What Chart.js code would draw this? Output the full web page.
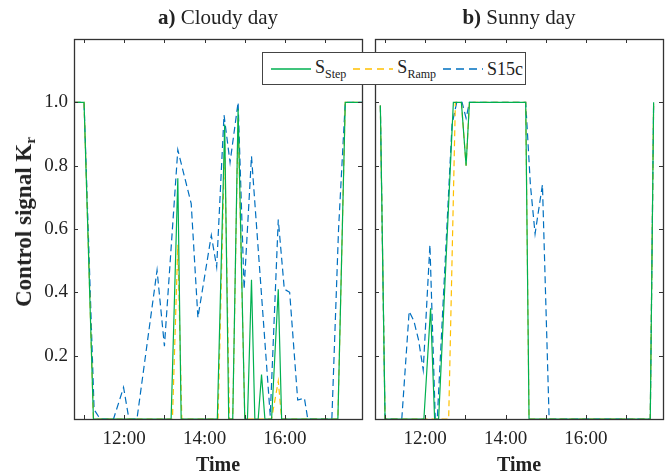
<!DOCTYPE html>
<html>
<head>
<meta charset="utf-8">
<script src="https://cdn.jsdelivr.net/npm/chart.js@4.4.1/dist/chart.umd.min.js"></script>
<style>
  body { margin: 0; background: #fff; }
  #wrap { position: relative; width: 670px; height: 476px; font-family: "Liberation Serif", "Times New Roman", serif; color: #222; }
  canvas { position: absolute; left: 0; top: 0; }
  .title { position: absolute; top: 5px; font-size: 21px; line-height: 1.2; transform: translateX(-50%); white-space: nowrap; }
  #ylab { position: absolute; left: 25px; top: 222px; font-size: 23px; font-weight: bold; white-space: nowrap;
          transform: translate(-50%, -50%) rotate(-90deg); }
  #ylab sub { font-size: 15px; vertical-align: -4px; }
  #legend { position: absolute; left: 262px; top: 52px; width: 254px; height: 31px; background: #fff;
            border: 1px solid #444; display: flex; align-items: center; padding-left: 8px; box-sizing: content-box; }
  #legend .item { display: flex; align-items: center; margin-right: 7px; }
  #legend svg { width: 40px; height: 6px; margin-right: 4px; }
  #legend .lab { font-size: 18px; line-height: 1; }
  #legend .lab sub { font-size: 12px; vertical-align: -5px; }
</style>
</head>
<body>
<div id="wrap">
  <canvas id="cloudy" width="670" height="476"></canvas>
  <canvas id="sunny" width="670" height="476"></canvas>
  <div class="title" style="left:218px"><b>a)</b> Cloudy day</div>
  <div class="title" style="left:519px"><b>b)</b> Sunny day</div>
  <div id="ylab">Control signal K<sub>r</sub></div>
  <div id="legend"></div>
</div>
<script>
// ---- data (times as HH:MM, values 0..1) ----
const seriesNames = ["S|Step", "S|Ramp", "S15c"];
const seriesColors = ["#00b050", "#ffc000", "#0070c0"];

// a) Cloudy day
const cloudyStepTimes = ["10:45","11:00","11:14","13:10","13:20","13:25","14:19","14:30","14:36","14:42","14:50","15:00","15:04","15:10","15:15","15:20","15:25","15:30","15:40","15:50","15:55","17:19","17:30","17:55"];
const cloudyStepValues = [1,1,0,0,0.76,0,0,0.93,0,0,0.98,0,0,0.44,0,0,0.14,0,0,0.41,0,0,1,1];
const cloudyRampTimes = ["10:45","11:00","11:14","13:12","13:20","13:26","14:20","14:30","14:37","14:42","14:50","15:00","15:40","15:50","15:55","17:19","17:30","17:55"];
const cloudyRampValues = [1,1,0,0,0.55,0,0,0.87,0,0,0.95,0,0,0.12,0,0,1,1];
const cloudyS15cTimes = ["10:45","11:00","11:15","11:24","11:44","11:59","12:07","12:19","12:49","13:00","13:20","13:40","13:50","14:10","14:18","14:29","14:38","14:50","14:59","15:10","15:38","15:50","15:59","16:07","16:19","16:29","16:34","17:10","17:20","17:30","17:55"];
const cloudyS15cValues = [1,1,0.03,0,0,0.10,0,0,0.47,0.23,0.85,0.68,0.32,0.58,0.48,0.96,0.81,1.0,0.41,0.83,0.01,0.63,0.41,0.40,0.06,0.066,0,0,0.6,1,1];

// b) Sunny day
const sunnyStepTimes = ["10:53","11:00","11:58","12:08","12:14","12:20","12:42","12:54","13:01","13:06","14:30","14:35","14:38","17:36","17:41"];
const sunnyStepValues = [0.99,0,0,0.35,0,0,1,1,0.80,1,1,0,0,0,1];
const sunnyRampTimes = ["10:53","11:00","12:35","12:45","12:54","13:01","13:06","14:30","14:35","17:36","17:41"];
const sunnyRampValues = [0.99,0,0,1,1,0.80,1,1,0,0,1];
const sunnyS15cTimes = ["10:53","11:00","11:25","11:36","11:43","11:50","11:57","12:07","12:15","12:18","12:40","12:47","12:55","13:01","13:06","14:30","14:37","14:44","14:55","15:05","17:36","17:41"];
const sunnyS15cValues = [0.99,0,0,0.34,0.31,0.25,0.155,0.55,0,0,0.93,1,1,0.95,1,1,0.74,0.585,0.74,0,0,1];

// axes
const xMin = "10:45", xMax = "17:55";
const yMin = 0, yMax = 1.2, yStep = 0.2;
const labelledHours = [12, 14, 16];

const toH = s => { const [h, m] = s.split(":").map(Number); return h + m / 60; };
const pts = (t, v) => t.map((s, i) => ({ x: toH(s), y: v[i] }));

// MATLAB-like box with inward ticks on all four sides
const frameTicks = {
  id: "frameTicks",
  afterDatasetsDraw(chart) {
    const { ctx, chartArea: a, scales: { x, y } } = chart;
    const len = 4;
    ctx.save();
    ctx.strokeStyle = "#333";
    ctx.lineWidth = 1;
    ctx.beginPath();
    x.ticks.forEach(t => {
      const px = Math.round(x.getPixelForValue(t.value)) + 0.5;
      ctx.moveTo(px, a.bottom); ctx.lineTo(px, a.bottom - len);
      ctx.moveTo(px, a.top); ctx.lineTo(px, a.top + len);
    });
    y.ticks.forEach(t => {
      const py = Math.round(y.getPixelForValue(t.value)) + 0.5;
      ctx.moveTo(a.left, py); ctx.lineTo(a.left + len, py);
      ctx.moveTo(a.right, py); ctx.lineTo(a.right - len, py);
    });
    ctx.stroke();
    ctx.lineWidth = 1.3;
    ctx.strokeRect(Math.round(a.left) + 0.5, Math.round(a.top) + 0.5, Math.round(a.right - a.left), Math.round(a.bottom - a.top));
    ctx.restore();
  }
};

function makeChart(id, sets, showY, pad) {
  const fontFam = '"Liberation Serif", "Times New Roman", serif';
  const datasets = sets.map((d, i) => ({
    label: seriesNames[i].replace("|", ""),
    data: d,
    borderColor: seriesColors[i],
    borderWidth: 1.2,
    borderDash: i === 0 ? [] : (i === 1 ? [6, 4] : [7, 4]),
    pointRadius: 0,
    tension: 0,
    fill: false
  }));
  return new Chart(document.getElementById(id), {
    type: "line",
    data: { datasets },
    options: {
      responsive: false,
      animation: false,
      devicePixelRatio: 1,
      layout: { padding: pad },
      plugins: { legend: { display: false }, tooltip: { enabled: false } },
      scales: {
        x: {
          type: "linear",
          min: toH(xMin), max: toH(xMax),
          grid: { display: false, drawTicks: false },
          border: { display: false },
          ticks: {
            stepSize: 1, includeBounds: false, autoSkip: false, maxRotation: 0,
            padding: 9, color: "#222", font: { family: fontFam, size: 19 },
            callback: v => labelledHours.includes(v) ? v + ":00" : ""
          },
          title: { display: true, text: "Time", color: "#222", font: { family: fontFam, size: 20, weight: "bold", lineHeight: 1 }, padding: 0 },
          afterFit: s => { s.height = 57; }
        },
        y: {
          min: yMin, max: yMax,
          grid: { display: false, drawTicks: false },
          border: { display: false },
          ticks: {
            display: showY, stepSize: yStep, padding: 6, color: "#222", font: { family: fontFam, size: 19 },
            callback: v => (v > 0.01 && v < 1.19) ? v.toFixed(1) : ""
          },
          afterFit: s => { s.width = showY ? 74 : 0; }
        }
      }
    },
    plugins: [frameTicks]
  });
}

makeChart("cloudy", [pts(cloudyStepTimes, cloudyStepValues), pts(cloudyRampTimes, cloudyRampValues), pts(cloudyS15cTimes, cloudyS15cValues)],
  true, { top: 39, right: 308, bottom: 0, left: 0 });
makeChart("sunny", [pts(sunnyStepTimes, sunnyStepValues), pts(sunnyRampTimes, sunnyRampValues), pts(sunnyS15cTimes, sunnyS15cValues)],
  false, { top: 39, right: 7, bottom: 0, left: 375 });

// legend (html so the subscripts stay real text)
const legend = document.getElementById("legend");
seriesNames.forEach((name, i) => {
  const [main, sub] = name.split("|");
  const dash = i === 0 ? "" : (i === 1 ? 'stroke-dasharray="7 5"' : 'stroke-dasharray="8 5"');
  legend.insertAdjacentHTML("beforeend",
    `<div class="item"><svg viewBox="0 0 40 6"><line x1="0" y1="3" x2="40" y2="3" stroke="${seriesColors[i]}" stroke-width="1.3" ${dash}/></svg>` +
    `<span class="lab">${main}${sub ? "<sub>" + sub + "</sub>" : ""}</span></div>`);
});
</script>
</body>
</html>
